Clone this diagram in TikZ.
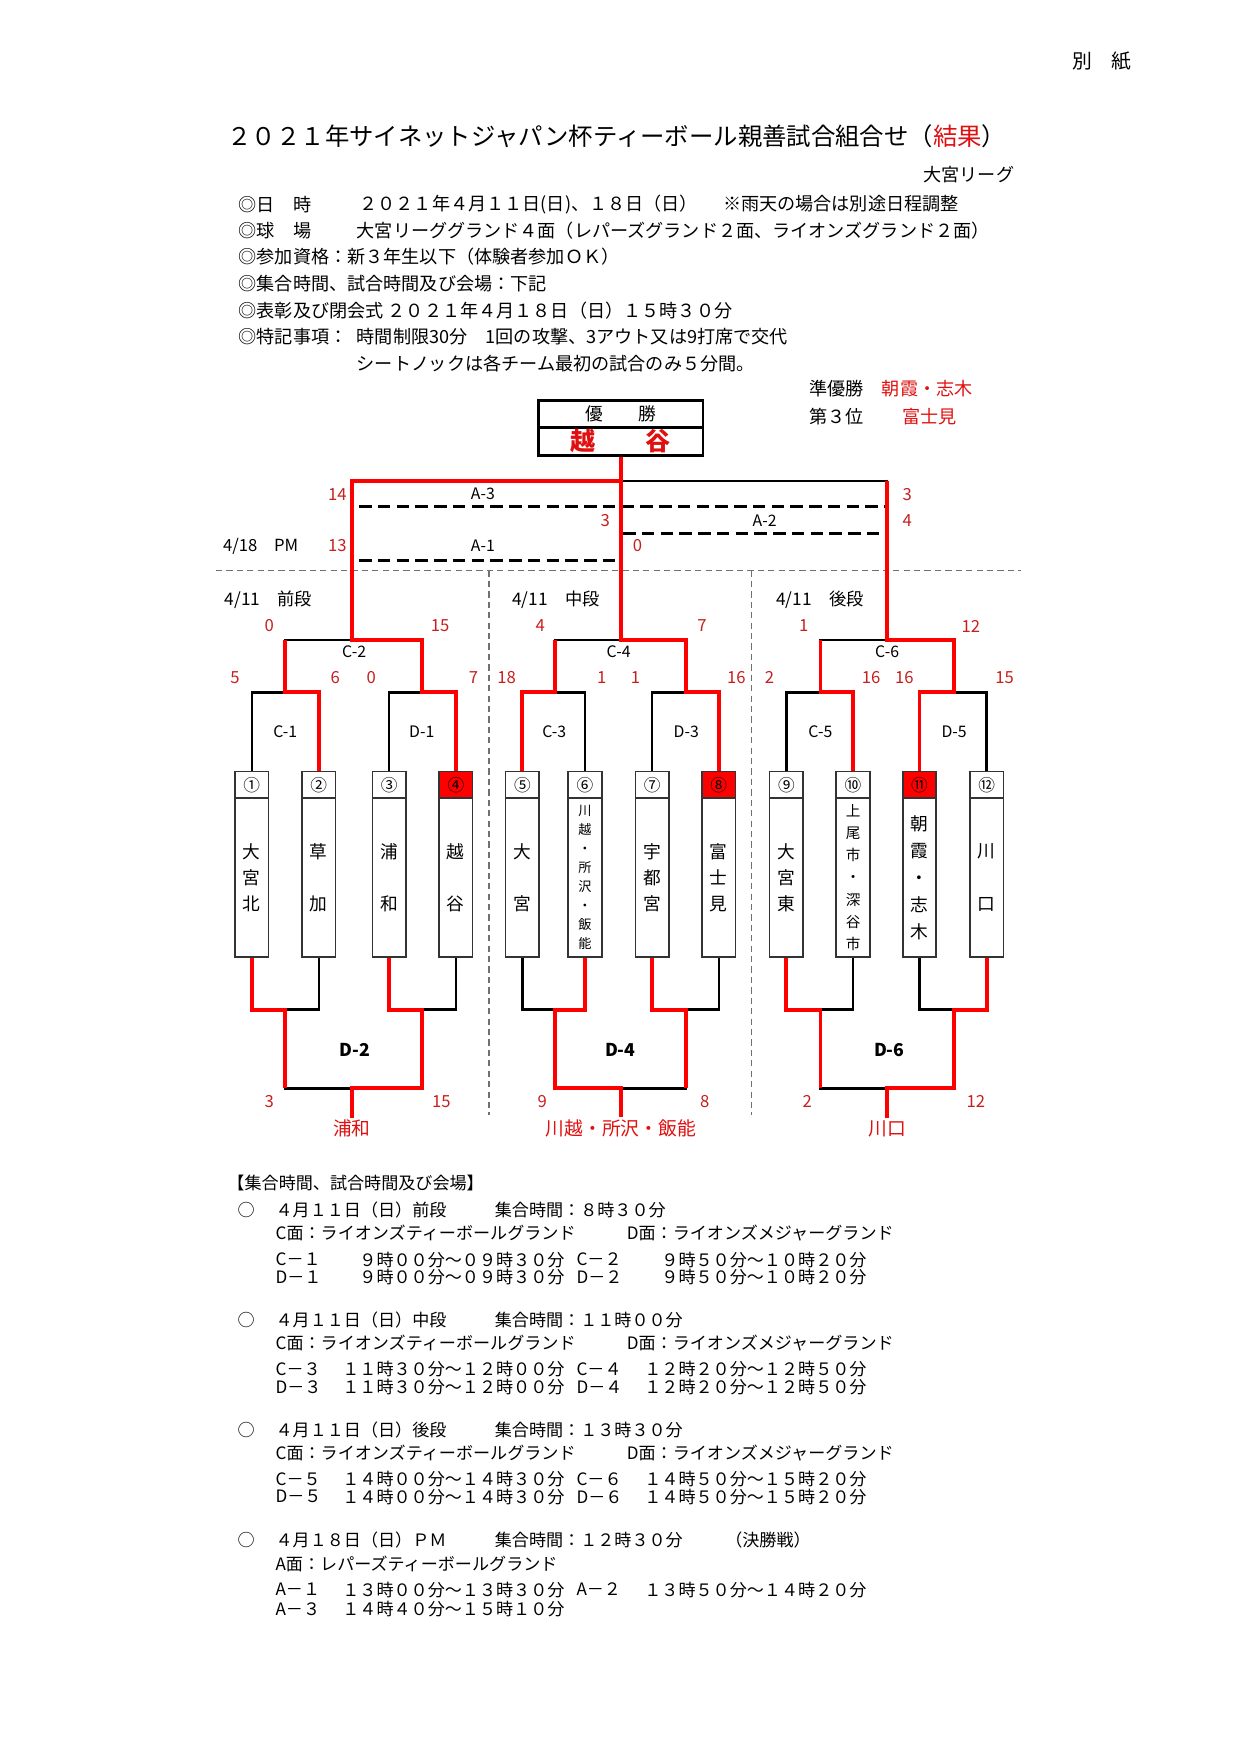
\documentclass[tikz,border=0pt]{standalone}
\usepackage{fontspec}
\setmainfont{Noto Sans CJK JP}
\usepackage{xcolor}
\definecolor{winred}{HTML}{FF0000}
\definecolor{scorered}{HTML}{C81E1E}
\definecolor{textred}{HTML}{E01010}
\definecolor{edgegray}{HTML}{333333}
\definecolor{divgray}{HTML}{707070}
\newcommand\fsz[2]{\fontsize{#1}{#2}\selectfont}
\def\pxu{0.53677pt}

\tikzset{
  blk/.style={line width=1.1pt, black},
  win/.style={line width=1.9pt, winred},
  adash/.style={line width=1.5pt, black, dash pattern=on 6pt off 3pt},
  divline/.style={line width=0.7pt, divgray, dash pattern=on 3pt off 2pt},
  txt/.style={inner sep=0pt, anchor=west, font=\fsz{8.7}{10}},
  sched/.style={inner sep=0pt, anchor=west, font=\fsz{8.2}{10}},
  score/.style={inner sep=0pt, text=scorered, font=\fsz{8}{9}},
  mlabel/.style={inner sep=0pt, font=\fsz{7.6}{9}},
  numcell/.style={draw=edgegray, line width=0.8pt, minimum width=30*\pxu, minimum height=23.5*\pxu, inner sep=0pt, font=\fsz{8}{9}},
  namebox/.style={draw=edgegray, line width=0.8pt, minimum width=30*\pxu, minimum height=142*\pxu, inner sep=0pt, align=center},
  champcell/.style={draw, line width=1.2pt, minimum width=147*\pxu, inner sep=0pt}
}

\begin{document}
\begin{tikzpicture}[x=0.53677pt, y=-0.53677pt]
  \useasboundingbox (0,0) rectangle (1109,1568);

  % header
  \node[inner sep=0pt, anchor=east, font=\fsz{9.5}{11}] (bessi) at (1012,55) {別　紙};
  \node[inner sep=0pt, anchor=west, font=\fsz{11.7}{14}] (title) at (203,122)
    {２０２１年サイネットジャパン杯ティーボール親善試合組合せ（\textcolor{textred}{結果}）};
  \node[txt, anchor=east] (league) at (907,156) {大宮リーグ};
  \node[txt] (i1) at (213,182.5) {◎日　時};
  \node[txt] (i1b) at (321,182.5) {２０２１年４月１１日(日)、１８日（日）};
  \node[txt] (i1c) at (646,182.5) {※雨天の場合は別途日程調整};
  \node[txt] (i2) at (213,206.3) {◎球　場};
  \node[txt] (i2b) at (318.6,206.3) {大宮リーググランド４面（レパーズグランド２面、ライオンズグランド２面）};
  \node[txt] (i3) at (213,229.5) {◎参加資格：新３年生以下（体験者参加ＯＫ）};
  \node[txt] (i4) at (213,253.4) {◎集合時間、試合時間及び会場：下記};
  \node[txt] (i5) at (213,277.3) {◎表彰及び閉会式 ２０２１年４月１８日（日）１５時３０分};
  \node[txt] (i6) at (213,300.5) {◎特記事項：};
  \node[txt] (i6b) at (318.6,300.5) {時間制限30分　1回の攻撃、3アウト又は9打席で交代};
  \node[txt] (i7) at (318.6,325) {シートノックは各チーム最初の試合のみ５分間。};

  % ranking
  \node[txt] (rk2) at (723,347) {準優勝};
  \node[txt, text=textred] (rk2n) at (788,347) {朝霞・志木};
  \node[txt] (rk3) at (723,372) {第３位};
  \node[txt, text=textred] (rk3n) at (806,372) {富士見};

  % champion box
  \node[champcell, minimum height=24*\pxu, font=\fsz{8.5}{10}] (champhd) at (555,370) {優　　勝};
  \node[champcell, minimum height=25*\pxu, font=\fsz{12}{13}\bfseries, text=textred] (champ) at (555,394.5) {越　　谷};

  % dividers
  \draw[divline] (193,510) -- (913,510);
  \draw[divline] (437,510) -- (437,997);
  \draw[divline] (672,510) -- (672,997);

  % teams
  \foreach \i/\x/\num/\nm/\fs/\sk/\fc in {
    1/225/①/{大\\宮\\北}/8.5/12.6/white,
    2/285/②/{草\\加}/8.5/25.2/white,
    3/348/③/{浦\\和}/8.5/25.2/white,
    4/407.5/④/{越\\谷}/8.5/25.2/winred,
    5/467/⑤/{大\\宮}/8.5/25.2/white,
    6/523/⑥/{川\\越\\・\\所\\沢\\・\\飯\\能}/6.3/9.14/white,
    7/583/⑦/{宇\\都\\宮}/8.5/12.6/white,
    8/642.5/⑧/{富\\士\\見}/8.5/12.6/winred,
    9/703/⑨/{大\\宮\\東}/8.5/12.6/white,
    10/762.6/⑩/{上\\尾\\市\\・\\深\\谷\\市}/7/10.67/white,
    11/822/⑪/{朝\\霞\\・\\志\\木}/8.5/12.9/winred,
    12/882/⑫/{川\\口}/8.5/25.2/white%
  }{
    \node[numcell, fill=\fc] (n\i) at (\x,701.5) {\num};
    \node[namebox, font=\fsz{\fs}{\sk}] (t\i) at (\x,784.5) {\nm};
  }

  % bracket points
  \foreach \m/\x in {1/255, 2/377.5, 3/496, 4/613, 5/733.5, 6/852.5}{
    \coordinate (u\m) at (\x,619);
    \coordinate (l\m) at (\x,902.5);
  }
  \foreach \m/\x in {1/314.5, 2/555, 3/793}{
    \coordinate (v\m) at (\x,572);
    \coordinate (k\m) at (\x,973);
    \coordinate (a\m) at (\x,430);
  }

  % winners of the lower bracket
  \node[inner sep=1pt, text=textred, font=\fsz{9}{10}] (w1) at (314.5,1009) {浦和};
  \node[inner sep=1pt, text=textred, font=\fsz{9}{10}] (w2) at (555,1009) {川越・所沢・飯能};
  \node[inner sep=1pt, text=textred, font=\fsz{9}{10}] (w3) at (793,1009) {川口};

  % black skeleton
  \foreach \a/\b/\m in {1/2/1, 3/4/2, 5/6/3, 7/8/4, 9/10/5, 11/12/6}{
    \draw[blk] (n\a.north) |- (u\m) -| (n\b.north);
    \draw[blk] (t\a.south) |- (l\m) -| (t\b.south);
  }
  \foreach \a/\b/\m in {1/2/1, 3/4/2, 5/6/3}{
    \draw[blk] (u\a) |- (v\m) -| (u\b);
    \draw[blk] (l\a) |- (k\m) -| (l\b);
    \draw[blk] (k\m) -- (w\m.north);
  }
  \draw[blk] (v1) -- (a1) -- (a3) -- (v3);
  \draw[blk] (champ.south) -- (v2);

  % final pool matches
  \draw[adash] (321,453) -- (795,453);
  \draw[adash] (557,477) -- (795,477);
  \draw[adash] (321,501) -- (554,501);

  % winning paths
  \draw[win] (n2.north) |- (u1) -- (u1 |- v1);
  \draw[win] (n4.north) |- (u2) |- (v1) -- (a1) -- (a2) -- (champ.south);
  \draw[win] (n5.north) |- (u3) -- (u3 |- v2);
  \draw[win] (n8.north) |- (u4) |- (v2) -- (a2);
  \draw[win] (n10.north) |- (u5) -- (u5 |- v3);
  \draw[win] (n11.north) |- (u6) |- (v3) -- (a3);
  \draw[win] (t1.south) |- (l1) -- (l1 |- k1);
  \draw[win] (t3.south) |- (l2) |- (k1) -- (w1.north);
  \draw[win] (t6.south) |- (l3) |- (k2) -- (w2.north);
  \draw[win] (t7.south) |- (l4) -- (l4 |- k2);
  \draw[win] (t9.south) |- (l5) -- (l5 |- k3);
  \draw[win] (t12.south) |- (l6) |- (k3) -- (w3.north);

  % match labels
  \foreach \x/\y/\lbl [count=\k] in {
    431.7/441.8/A-3, 683.6/465.7/A-2, 431.7/488/A-1,
    316.6/582.3/C-2, 553/582.3/C-4, 793/582.3/C-6,
    255/653.8/C-1, 377/653.8/D-1, 495.5/653.8/C-3,
    613.5/653.8/D-3, 733.4/653.8/C-5, 853/653.8/D-5%
  }{
    \node[mlabel] (m\k) at (\x,\y) {\lbl};
  }
  \foreach \x/\lbl [count=\k] in {317.5/D-2, 554.5/D-4, 795/D-6}{
    \node[inner sep=0pt, font=\fsz{8.5}{10}\bfseries] (dm\k) at (\x,938.5) {\lbl};
  }
  \node[mlabel, font=\fsz{8}{9}] (pm) at (233,488) {4/18　PM};
  \foreach \x/\stage [count=\k] in {240/前段, 497/中段, 733/後段}{
    \node[inner sep=0pt, font=\fsz{8.3}{9}] (grp\k) at (\x,536) {4/11　\stage};
  }

  % scores
  \foreach \x/\y/\s [count=\k] in {
    301.7/441.8/14, 301.7/488/13, 541/465.7/3, 570/488/0, 811/441.8/3, 811/465.7/4,
    240.6/559.6/0, 393.5/559.6/15, 210/606/5, 299.6/606/6, 331.8/606/0, 423.3/606/7,
    483/559.6/4, 627.6/559.6/7, 453/606/18, 538/606/1, 568/606/1, 658.3/606/16,
    718.5/559.6/1, 868/559.6/12, 688/606/2, 778.7/606/16, 808.5/606/16, 898/606/15,
    240.6/985/3, 394.5/985/15, 484.8/985/9, 630/985/8, 721.7/985/2, 872.4/985/12%
  }{
    \node[score] (s\k) at (\x,\y) {\s};
  }

  % schedule
  \node[sched] (sh) at (203,1057.7) {【集合時間、試合時間及び会場】};
  \foreach \g/\y/\stage/\meet/\ma/\mb/\ta/\tb in {
    1/1082/前段/８時３０分/１/２/９時００分～０９時３０分/９時５０分～１０時２０分,
    2/1180/中段/１１時００分/３/４/１１時３０分～１２時００分/１２時２０分～１２時５０分,
    3/1278/後段/１３時３０分/５/６/１４時００分～１４時３０分/１４時５０分～１５時２０分%
  }{
    \pgfmathsetmacro\yb{\y+20.5}
    \pgfmathsetmacro\yc{\y+44}
    \pgfmathsetmacro\yd{\y+60}
    \node[sched, anchor=center] (mk\g) at (220,\y) {○};
    \node[sched] (day\g) at (246,\y) {４月１１日（日）\stage};
    \node[sched] (meet\g) at (442,\y) {集合時間：\meet};
    \node[sched] (cf\g) at (246,\yb) {C面：ライオンズティーボールグランド};
    \node[sched] (df\g) at (560,\yb) {D面：ライオンズメジャーグランド};
    \node[sched] (ca\g) at (246,\yc) {C－\ma};
    \node[sched, anchor=east] (cta\g) at (505,\yc) {\ta};
    \node[sched] (cb\g) at (515,\yc) {C－\mb};
    \node[sched, anchor=east] (ctb\g) at (775,\yc) {\tb};
    \node[sched] (da\g) at (246,\yd) {D－\ma};
    \node[sched, anchor=east] (dta\g) at (505,\yd) {\ta};
    \node[sched] (db\g) at (515,\yd) {D－\mb};
    \node[sched, anchor=east] (dtb\g) at (775,\yd) {\tb};
  }
  % final day
  \node[sched, anchor=center] (mk4) at (220,1377) {○};
  \node[sched] (day4) at (246,1377) {４月１８日（日）ＰＭ};
  \node[sched] (meet4) at (442,1377) {集合時間：１２時３０分};
  \node[sched] (fin4) at (648,1377) {（決勝戦）};
  \node[sched] (af4) at (246,1398) {A面：レパーズティーボールグランド};
  \node[sched] (aa4) at (246,1421) {A－１};
  \node[sched, anchor=east] (ata4) at (505,1421) {１３時００分～１３時３０分};
  \node[sched] (ab4) at (515,1421) {A－２};
  \node[sched, anchor=east] (atb4) at (775,1421) {１３時５０分～１４時２０分};
  \node[sched] (ac4) at (246,1438.5) {A－３};
  \node[sched, anchor=east] (atc4) at (505,1438.5) {１４時４０分～１５時１０分};
\end{tikzpicture}
\end{document}
